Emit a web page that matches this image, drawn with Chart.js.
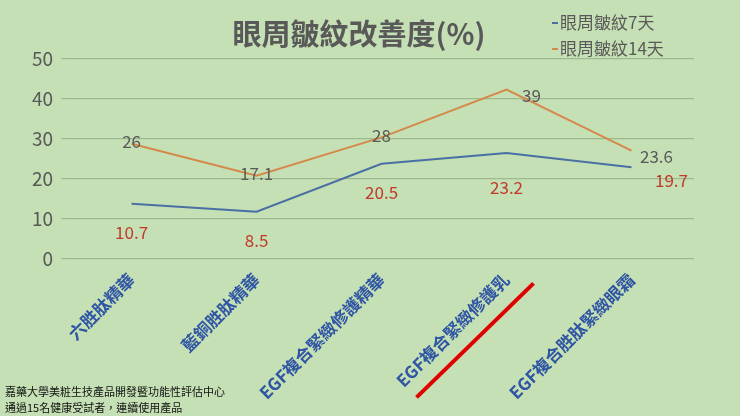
<!DOCTYPE html>
<html>
<head>
<meta charset="utf-8">
<script src="https://cdn.jsdelivr.net/npm/chart.js@4/dist/chart.umd.min.js"></script>
<style>
  body { margin: 0; background: #c5e0b4; }
  #wrap { width: 740px; height: 416px; }
</style>
</head>
<body>
<div id="wrap"><canvas id="c" width="740" height="416"></canvas></div>
<script>
const categorias = ["六胜肽精華", "藍銅胜肽精華", "EGF複合緊緻修護精華", "EGF複合緊緻修護乳", "EGF複合胜肽緊緻眼霜"];
const valores7 = [13.7, 11.7, 23.7, 26.4, 22.8];
const valores14 = [28.7, 20.7, 30.3, 42.3, 27.0];
const rotulos7 = ["10.7", "8.5", "20.5", "23.2", "19.7"];
const rotulos14 = ["26", "17.1", "28", "39", "23.6"];
const ticksY = [0, 10, 20, 30, 40, 50];
const fonte = "'Noto Sans CJK TC', 'Noto Sans', sans-serif";

const extras = {
  id: "extras",
  afterDatasetsDraw(chart) {
    const ctx = chart.ctx;
    const x = chart.scales.x;
    const m7 = chart.getDatasetMeta(0).data;
    const m14 = chart.getDatasetMeta(1).data;
    ctx.save();
    ctx.font = "17px " + fonte;
    ctx.textAlign = "center";
    ctx.textBaseline = "middle";
    m14.forEach((p, i) => {
      ctx.fillStyle = "#595959";
      let dx = i >= 3 ? 25 : 0, dy = i >= 3 ? 6 : -2;
      ctx.fillText(rotulos14[i], p.x + dx, p.y + dy);
    });
    m7.forEach((p, i) => {
      ctx.fillStyle = "#c0392b";
      let dx = i === 4 ? 40 : 0, dy = i === 4 ? 13 : (i === 3 ? 35 : 29);
      ctx.fillText(rotulos7[i], p.x + dx, p.y + dy);
    });
    // legend
    ctx.textAlign = "left";
    ctx.font = "17px " + fonte;
    [["#4a6fa5", "眼周皺紋7天", 22], ["#d4894a", "眼周皺紋14天", 48]].forEach(([c, t, y]) => {
      ctx.fillStyle = c;
      ctx.fillRect(552, y, 6, 2);
      ctx.fillStyle = "#595959";
      ctx.fillText(t, 560, y + 1);
    });
    // red underline
    const tx = x.getPixelForValue(3);
    const b = chart.chartArea.bottom;
    ctx.strokeStyle = "#e00000";
    ctx.lineWidth = 4;
    ctx.beginPath();
    ctx.moveTo(tx - 90, b + 139);
    ctx.lineTo(tx + 27, b + 25);
    ctx.stroke();
    // footnote
    ctx.fillStyle = "#111";
    ctx.font = "11px " + fonte;
    ctx.fillText("嘉藥大學美粧生技產品開發暨功能性評估中心", 5, 392);
    ctx.fillText("通過15名健康受試者，連續使用產品", 5, 408);
    ctx.restore();
  }
};

new Chart(document.getElementById("c"), {
  type: "line",
  data: {
    labels: categorias,
    datasets: [
      { label: "眼周皺紋7天", data: valores7, borderColor: "#4a6fa5", borderWidth: 2, pointRadius: 0, tension: 0 },
      { label: "眼周皺紋14天", data: valores14, borderColor: "#d4894a", borderWidth: 2, pointRadius: 0, tension: 0 }
    ]
  },
  options: {
    responsive: false,
    animation: false,
    layout: { padding: { left: 24, right: 46, top: 0, bottom: 10 } },
    plugins: {
      legend: { display: false },
      tooltip: { enabled: false },
      title: {
        display: true,
        text: "眼周皺紋改善度(%)",
        color: "#595959",
        font: { family: fonte, size: 29, weight: "bold" },
        padding: { top: 17, bottom: 7 }
      }
    },
    scales: {
      x: {
        offset: true,
        grid: { display: false },
        border: { display: false },
        ticks: {
          color: "#2f55a4",
          font: { family: fonte, size: 17, weight: "bold" },
          minRotation: 45, maxRotation: 45
        }
      },
      y: {
        min: 0, max: 50,
        afterBuildTicks: s => { s.ticks = ticksY.map(v => ({ value: v })); },
        grid: { color: "#9fb98f", lineWidth: 1.2 },
        border: { display: false },
        ticks: { color: "#595959", font: { family: fonte, size: 19 }, padding: 8 }
      }
    }
  },
  plugins: [extras]
});
</script>
</body>
</html>
